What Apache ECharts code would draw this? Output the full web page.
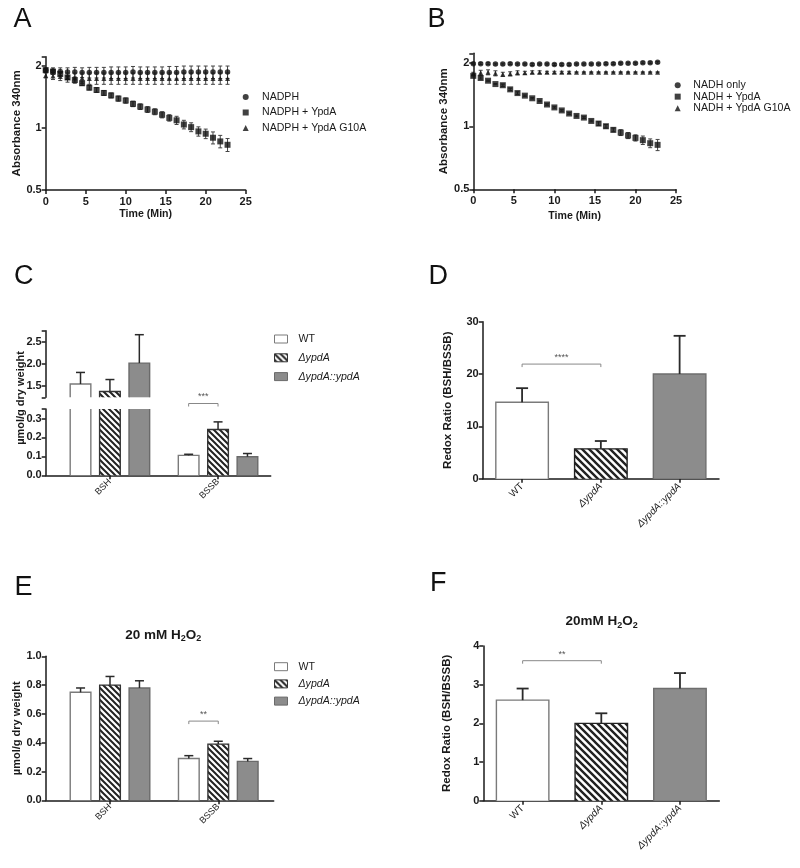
<!DOCTYPE html>
<html><head><meta charset="utf-8">
<script src="https://cdn.jsdelivr.net/npm/echarts@6/dist/echarts.min.js"></script>
<style>html,body{margin:0;padding:0;background:#fff}#c{width:800px;height:868px}</style>
</head><body><div id="c"></div>
<script>
// ---------------- DATA ----------------
const timeMin = [0,0.91,1.82,2.73,3.64,4.55,5.45,6.36,7.27,8.18,9.09,10.0,10.91,11.82,12.73,13.64,14.55,15.45,16.36,17.27,18.18,19.09,20.0,20.91,21.82,22.73];

// Panel A (NADPH)
const namesA = ['NADPH', 'NADPH + YpdA', 'NADPH + YpdA G10A'];
const nadph      = [1.91,1.89,1.88,1.87,1.87,1.86,1.86,1.86,1.86,1.86,1.86,1.86,1.87,1.86,1.86,1.86,1.86,1.86,1.86,1.87,1.87,1.87,1.87,1.87,1.87,1.87];
const nadphErr   = [0.05,0.07,0.08,0.09,0.10,0.10,0.11,0.11,0.11,0.12,0.12,0.12,0.12,0.12,0.12,0.12,0.12,0.13,0.13,0.13,0.13,0.13,0.13,0.13,0.13,0.13];
const nadphYpdA  = [1.91,1.88,1.83,1.76,1.71,1.65,1.57,1.53,1.48,1.44,1.39,1.36,1.31,1.27,1.23,1.20,1.16,1.12,1.09,1.04,1.01,0.963,0.938,0.897,0.861,0.829];
const nadphYpdAErr=[0.03,0.03,0.04,0.04,0.04,0.04,0.04,0.04,0.04,0.04,0.04,0.04,0.04,0.04,0.04,0.04,0.04,0.04,0.05,0.05,0.05,0.05,0.05,0.06,0.06,0.06];
const nadphG10A  = [1.80,1.79,1.78,1.76,1.75,1.75,1.74,1.74,1.74,1.74,1.74,1.74,1.74,1.74,1.74,1.74,1.74,1.74,1.74,1.74,1.74,1.74,1.74,1.74,1.74,1.74];
const nadphG10AErr=[0.05,0.07,0.08,0.09,0.10,0.10,0.11,0.11,0.11,0.11,0.11,0.11,0.11,0.11,0.11,0.11,0.11,0.11,0.11,0.11,0.11,0.11,0.11,0.11,0.11,0.11];

// Panel B (NADH)
const namesB = ['NADH only', 'NADH + YpdA', 'NADH + YpdA G10A'];
const nadh       = [1.99,1.99,1.99,1.98,1.98,1.99,1.98,1.98,1.97,1.98,1.98,1.97,1.97,1.97,1.98,1.98,1.98,1.98,1.99,1.99,2.00,2.00,2.00,2.01,2.01,2.02];
const nadhErr    = [0.02,0.02,0.02,0.02,0.02,0.02,0.02,0.02,0.02,0.02,0.02,0.02,0.02,0.02,0.02,0.02,0.02,0.02,0.02,0.02,0.02,0.02,0.02,0.02,0.02,0.02];
const nadhYpdA   = [1.74,1.70,1.65,1.59,1.57,1.50,1.44,1.40,1.36,1.32,1.27,1.23,1.19,1.15,1.12,1.10,1.06,1.03,1.00,0.961,0.933,0.903,0.880,0.858,0.830,0.815];
const nadhYpdAErr= [0.02,0.02,0.01,0.01,0.02,0.02,0.02,0.01,0.01,0.01,0.01,0.01,0.01,0.01,0.01,0.01,0.01,0.02,0.02,0.02,0.03,0.03,0.03,0.04,0.04,0.05];
const nadhG10A   = [1.78,1.80,1.81,1.79,1.77,1.78,1.80,1.80,1.81,1.81,1.81,1.81,1.81,1.81,1.81,1.81,1.81,1.81,1.81,1.81,1.81,1.81,1.81,1.81,1.81,1.81];
const nadhG10AErr= [0.03,0.05,0.05,0.05,0.04,0.04,0.04,0.03,0.03,0.03,0.02,0.02,0.02,0.02,0.01,0.01,0.01,0.01,0.01,0.01,0.01,0.01,0.01,0.01,0.01,0.01];

// Strains / groups
const strains = ['WT', 'ΔypdA', 'ΔypdA::ypdA'];
const groups = ['BSH', 'BSSB'];

// Panel C (per strain: [BSH, BSSB])
const cWT = [1.55, 0.105], cWTErr = [0.26, 0.006];
const cDel = [1.38, 0.242], cDelErr = [0.27, 0.04];
const cComp = [2.02, 0.098], cCompErr = [0.64, 0.017];
const cSig = {label: '***', level: 0.379};

// Panel D (redox ratio per strain)
const dRatio = [14.6, 5.7, 20.0], dRatioErr = [2.7, 1.5, 7.3];
const dSig = {label: '****', level: 21.9};

// Panel E (20 mM H2O2)
const eWT = [0.75, 0.29], eWTErr = [0.03, 0.02];
const eDel = [0.80, 0.39], eDelErr = [0.06, 0.02];
const eComp = [0.78, 0.27], eCompErr = [0.05, 0.02];
const eSig = {label: '**', level: 0.55};

// Panel F (redox ratio, 20mM H2O2)
const fRatio = [2.6, 2.0, 2.9], fRatioErr = [0.3, 0.26, 0.4];
const fSig = {label: '**', level: 3.62};

// ---------------- STYLE / BUILD ----------------
const FONT = '"Liberation Sans", Arial, Helvetica, sans-serif';
const INK = '#1a1a1a';

function hatch(p, lw, color) {
  const c = document.createElement('canvas');
  c.width = p; c.height = p;
  const ctx = c.getContext('2d');
  ctx.fillStyle = '#fff'; ctx.fillRect(0, 0, p, p);
  ctx.strokeStyle = color; ctx.lineWidth = lw;
  ctx.beginPath();
  for (let k = -1; k <= 1; k++) { ctx.moveTo(-2, -2 + k * p); ctx.lineTo(p + 2, p + 2 + k * p); }
  ctx.stroke();
  return {image: c, repeat: 'repeat'};
}
const patSmall = hatch(6, 2, '#222');
const patBig = hatch(7, 2.4, '#222');

const barStylesSmall = [
  {fill: '#ffffff', stroke: '#7a7a7a'},
  {fill: patSmall, stroke: '#333333'},
  {fill: '#8c8c8c', stroke: '#6a6a6a'}
];
const barStylesBig = [
  {fill: '#ffffff', stroke: '#7a7a7a'},
  {fill: patBig, stroke: '#222222'},
  {fill: '#8c8c8c', stroke: '#6e6e6e'}
];

function merge(a, b) {
  const o = Array.isArray(a) ? a.slice() : Object.assign({}, a);
  for (const k in b) {
    if (b[k] && typeof b[k] === 'object' && !Array.isArray(b[k]) && a[k] && typeof a[k] === 'object' && !b[k].image) o[k] = merge(a[k], b[k]);
    else o[k] = b[k];
  }
  return o;
}
const AX = {
  axisLine: {show: true, onZero: false, lineStyle: {color: INK, width: 1.5}},
  axisTick: {show: true, length: 4, inside: false, lineStyle: {color: INK, width: 1.5}},
  splitLine: {show: false},
  axisLabel: {color: INK, fontFamily: FONT, fontWeight: 'bold', fontSize: 11, margin: 4},
  nameTextStyle: {color: INK, fontFamily: FONT, fontWeight: 'bold', fontSize: 11.5}
};
const ax = o => merge(AX, o);

const logFmt = v => { const l = Math.log2(v); return Math.abs(l - Math.round(l)) < 1e-6 ? String(+v.toFixed(2)) : ''; };
const strainRich = {
  n: {fontFamily: FONT, fontSize: 10, color: INK},
  i: {fontFamily: FONT, fontSize: 10, color: INK, fontStyle: 'italic'}
};
const strainFmt = v => (v === 'WT' ? '{n|' + v + '}' : '{i|' + v + '}');

const zip = (xs, ys) => xs.map((x, i) => [x, ys[i]]);

// error bars for scatter series
function errSeries(xi, yi, vals, errs, capW) {
  return {
    type: 'custom', xAxisIndex: xi, yAxisIndex: yi, silent: true, z: 1,
    data: timeMin.map((t, i) => [t, vals[i], errs[i]]),
    encode: {x: 0, y: 1},
    renderItem: (params, api) => {
      const x = api.value(0), y = api.value(1), e = api.value(2);
      const t = api.coord([x, y + e]), b = api.coord([x, y - e]);
      const h = capW / 2, st = {stroke: '#444', lineWidth: 1};
      return {type: 'group', children: [
        {type: 'line', shape: {x1: t[0], y1: t[1], x2: b[0], y2: b[1]}, style: st},
        {type: 'line', shape: {x1: t[0] - h, y1: t[1], x2: t[0] + h, y2: t[1]}, style: st},
        {type: 'line', shape: {x1: b[0] - h, y1: b[1], x2: b[0] + h, y2: b[1]}, style: st}
      ]};
    }
  };
}
function pointSeries(name, xi, yi, vals, symbol, size) {
  return {type: 'scatter', name, xAxisIndex: xi, yAxisIndex: yi, symbol, symbolSize: size, z: 3,
    itemStyle: {color: '#111'}, data: zip(timeMin, vals)};
}

// bar drawing helper
function barShape(api, cs, xc, v, e, halfW, st, capW, lw) {
  const yTop = cs.y, yBot = cs.y + cs.height;
  const p = api.coord([xc, v]);
  if (p[1] > yBot + 0.5) return null;
  const clamped = p[1] < yTop;
  const ty = clamped ? yTop : p[1];
  const l = p[0] - halfW, r = p[0] + halfW;
  const border = {stroke: st.stroke, lineWidth: 1.4, fill: null};
  const ch = [{type: 'rect', shape: {x: l, y: ty, width: r - l, height: yBot - ty}, style: {fill: st.fill}}];
  if (clamped) {
    ch.push({type: 'line', shape: {x1: l, y1: yBot, x2: l, y2: ty}, style: border});
    ch.push({type: 'line', shape: {x1: r, y1: yBot, x2: r, y2: ty}, style: border});
  } else {
    ch.push({type: 'polyline', shape: {points: [[l, yBot], [l, ty], [r, ty], [r, yBot]]}, style: border});
    const pe = api.coord([xc, v + e]);
    const es = {stroke: '#2a2a2a', lineWidth: lw};
    ch.push({type: 'line', shape: {x1: p[0], y1: ty, x2: p[0], y2: pe[1]}, style: es});
    ch.push({type: 'line', shape: {x1: p[0] - capW / 2, y1: pe[1], x2: p[0] + capW / 2, y2: pe[1]}, style: es});
  }
  return {type: 'group', children: ch};
}

const OFFS = [-0.272, 0, 0.272], BAR_W = 0.191;
function groupedSeries(si, vals, errs, xi, yi) {
  const st = barStylesSmall[si];
  return {
    type: 'custom', name: strains[si], xAxisIndex: xi, yAxisIndex: yi,
    itemStyle: {color: st.fill, borderColor: st.stroke, borderWidth: 1},
    data: vals.map((v, g) => [g, v, errs[g]]), encode: {x: 0, y: 1},
    renderItem: (params, api) => {
      const xc = api.value(0) + OFFS[si];
      const halfW = api.size([BAR_W, 0])[0] / 2;
      return barShape(api, params.coordSys, xc, api.value(1), api.value(2), halfW, st, 9, 1.5);
    }
  };
}
function ratioSeries(vals, errs, xi, yi) {
  return {
    type: 'custom', name: 'ratio' + xi, xAxisIndex: xi, yAxisIndex: yi,
    data: vals.map((v, i) => [i, v, errs[i]]), encode: {x: 0, y: 1},
    renderItem: (params, api) => {
      const i = api.value(0);
      const halfW = api.size([1, 0])[0] * 0.667 / 2;
      return barShape(api, params.coordSys, i, api.value(1), api.value(2), halfW, barStylesBig[i], 12, 1.8);
    }
  };
}
function sigSeries(xi, yi, x0, x1, sig) {
  return {
    type: 'custom', xAxisIndex: xi, yAxisIndex: yi, silent: true, z: 5,
    data: [[x0, x1, sig.level]], encode: {x: 0, y: 2},
    renderItem: (params, api) => {
      const a = api.coord([api.value(0), api.value(2)]), b = api.coord([api.value(1), api.value(2)]);
      return {type: 'group', children: [
        {type: 'polyline', shape: {points: [[a[0], a[1] + 3], [a[0], a[1]], [b[0], b[1]], [b[0], b[1] + 3]]},
          style: {stroke: '#888', lineWidth: 1, fill: null}},
        {type: 'text', x: (a[0] + b[0]) / 2, y: a[1] - 2,
          style: {text: sig.label, fill: '#555', font: '9px ' + FONT, align: 'center', verticalAlign: 'bottom', textAlign: 'center', textVerticalAlign: 'bottom'}}
      ]};
    }
  };
}

// legends
function barLegend(top, gap) {
  return {
    left: 274, top, orient: 'vertical', padding: 0, itemWidth: 13, itemHeight: 8, itemGap: gap,
    selectedMode: false,
    data: strains.map((s, i) => ({name: s, icon: 'rect',
      itemStyle: {color: barStylesSmall[i].fill, borderColor: barStylesSmall[i].stroke, borderWidth: 1}})),
    formatter: n => (n === 'WT' ? '{n|' + n + '}' : '{i|' + n + '}'),
    textStyle: {fontFamily: FONT, fontSize: 10.6, color: INK, lineHeight: 12,
      rich: {n: {fontFamily: FONT, fontSize: 10.6, color: INK, padding: [0, 0, 0, 6]},
             i: {fontFamily: FONT, fontSize: 10.6, color: INK, fontStyle: 'italic', padding: [0, 0, 0, 6]}}}
  };
}
function ptLegend(left, top, names, gap, lh, pad) {
  return {left, top, orient: 'vertical', padding: 0, itemWidth: 6, itemHeight: 6, itemGap: gap,
    symbolKeepAspect: true, selectedMode: false, data: names,
    formatter: n => '{t|' + n + '}',
    textStyle: {fontFamily: FONT, fontSize: 10.6, color: INK, lineHeight: lh,
      rich: {t: {fontFamily: FONT, fontSize: 10.6, color: INK, lineHeight: lh, padding: [0, 0, 0, pad]}}}};
}

function letter(t, x, y) {
  return {type: 'text', x, y, style: {text: t, font: '27px ' + FONT, fill: '#111', textVerticalAlign: 'middle', verticalAlign: 'middle'}};
}
function h2o2Title(txt, x, y) {
  return {type: 'text', x, y, style: {
    text: '{b|' + txt + '}{s|2}{b|O}{s|2}', align: 'center', textAlign: 'center', verticalAlign: 'middle', textVerticalAlign: 'middle',
    rich: {b: {font: 'bold 13.5px ' + FONT, fill: INK, lineHeight: 16, verticalAlign: 'middle'},
           s: {font: 'bold 9px ' + FONT, fill: INK, verticalAlign: 'bottom'}}}};
}

const xGroupAxis = (grid, max) => ax({
  gridIndex: grid, type: 'value', min: -0.594, max,
  axisTick: {customValues: [0, 1]},
  axisLabel: {customValues: [0, 1], rotate: 45, fontWeight: 'normal', fontSize: 9, margin: 5,
    formatter: v => groups[Math.round(v)] || ''}
});

const option = {
  animation: false,
  backgroundColor: '#fff',
  textStyle: {fontFamily: FONT},
  grid: [
    {left: 45.7, top: 56.7, width: 200, height: 133.3},
    {left: 473.3, top: 53.3, width: 202.7, height: 136},
    {left: 45.7, top: 330.7, width: 225, height: 66.6},
    {left: 45.7, top: 409, width: 225, height: 66.3},
    {left: 482.7, top: 321.7, width: 236.3, height: 157},
    {left: 45.7, top: 656.3, width: 228, height: 144},
    {left: 483.3, top: 646, width: 236, height: 154.7}
  ],
  xAxis: [
    ax({gridIndex: 0, type: 'value', min: 0, max: 25, interval: 5, name: 'Time (Min)', nameLocation: 'middle', nameGap: 19,
        axisLabel: {margin: 6}, nameTextStyle: {fontSize: 10.6}}),
    ax({gridIndex: 1, type: 'value', min: 0, max: 25, interval: 5, name: 'Time (Min)', nameLocation: 'middle', nameGap: 21,
        axisLabel: {margin: 6}, nameTextStyle: {fontSize: 10.6}}),
    {gridIndex: 2, type: 'value', min: -0.594, max: 1.487, show: false},
    xGroupAxis(3, 1.487),
    ax({gridIndex: 4, type: 'category', data: strains, axisTick: {alignWithLabel: true},
        axisLabel: {rotate: 45, fontWeight: 'normal', margin: 6, formatter: strainFmt, rich: strainRich}}),
    xGroupAxis(5, 1.512),
    ax({gridIndex: 6, type: 'category', data: strains, axisTick: {alignWithLabel: true},
        axisLabel: {rotate: 45, fontWeight: 'normal', margin: 6, formatter: strainFmt, rich: strainRich}})
  ],
  yAxis: [
    ax({gridIndex: 0, type: 'log', logBase: 2, min: 0.5, max: 2.22, name: 'Absorbance 340nm', nameLocation: 'middle', nameGap: 17,
        axisLabel: {formatter: logFmt}}),
    ax({gridIndex: 1, type: 'log', logBase: 2, min: 0.5, max: 2.23, name: 'Absorbance 340nm', nameLocation: 'middle', nameGap: 20,
        axisLabel: {formatter: logFmt}}),
    ax({gridIndex: 2, type: 'value', min: 1.25, max: 2.75, splitNumber: 3,
        axisLabel: {formatter: v => (v < 1.3 || v > 2.7) ? '' : v.toFixed(1)}}),
    ax({gridIndex: 3, type: 'value', min: 0, max: 0.35, interval: 0.1,
        axisLabel: {formatter: v => (v > 0.32) ? '' : v.toFixed(1)}}),
    ax({gridIndex: 4, type: 'value', min: 0, max: 30, interval: 10, name: 'Redox Ratio (BSH/BSSB)', nameLocation: 'middle', nameGap: 29}),
    ax({gridIndex: 5, type: 'value', min: 0, max: 1, interval: 0.2, name: 'µmol/g dry weight', nameLocation: 'middle', nameGap: 13,
        axisLabel: {formatter: v => v.toFixed(1)}, nameTextStyle: {fontSize: 11}}),
    ax({gridIndex: 6, type: 'value', min: 0, max: 4, interval: 1, name: 'Redox Ratio (BSH/BSSB)', nameLocation: 'middle', nameGap: 30.5})
  ],
  legend: [
    ptLegend(242.7, 91, namesA, 3.5, 12, 8.3),
    ptLegend(674.7, 79.4, namesB, 0, 11.5, 7.6),
    barLegend(333, 6.8),
    barLegend(660.7, 5.2)
  ],
  graphic: {elements: [
    letter('A', 13.5, 20), letter('B', 427.5, 20), letter('C', 14, 277), letter('D', 428.5, 277),
    letter('E', 14.5, 588), letter('F', 430, 583.5),
    {type: 'text', x: 21, y: 398, rotation: Math.PI / 2,
      style: {text: 'µmol/g dry weight', font: 'bold 11px ' + FONT, fill: INK, align: 'center', verticalAlign: 'middle', textAlign: 'center', textVerticalAlign: 'middle'}},
    h2o2Title('20 mM H', 163.3, 635),
    h2o2Title('20mM H', 601.7, 621.7)
  ]},
  series: [
    // A
    errSeries(0, 0, nadph, nadphErr, 4), errSeries(0, 0, nadphG10A, nadphG10AErr, 4), errSeries(0, 0, nadphYpdA, nadphYpdAErr, 4),
    pointSeries(namesA[0], 0, 0, nadph, 'circle', 5.5),
    pointSeries(namesA[1], 0, 0, nadphYpdA, 'rect', 6),
    pointSeries(namesA[2], 0, 0, nadphG10A, 'triangle', 5),
    // B
    errSeries(1, 1, nadh, nadhErr, 4), errSeries(1, 1, nadhG10A, nadhG10AErr, 4), errSeries(1, 1, nadhYpdA, nadhYpdAErr, 4),
    pointSeries(namesB[0], 1, 1, nadh, 'circle', 5.5),
    pointSeries(namesB[1], 1, 1, nadhYpdA, 'rect', 6),
    pointSeries(namesB[2], 1, 1, nadhG10A, 'triangle', 5),
    // C upper + lower
    groupedSeries(0, cWT, cWTErr, 2, 2), groupedSeries(1, cDel, cDelErr, 2, 2), groupedSeries(2, cComp, cCompErr, 2, 2),
    groupedSeries(0, cWT, cWTErr, 3, 3), groupedSeries(1, cDel, cDelErr, 3, 3), groupedSeries(2, cComp, cCompErr, 3, 3),
    sigSeries(3, 3, 1 + OFFS[0], 1 + OFFS[1], cSig),
    // D
    ratioSeries(dRatio, dRatioErr, 4, 4),
    sigSeries(4, 4, 0, 1, dSig),
    // E
    groupedSeries(0, eWT, eWTErr, 5, 5), groupedSeries(1, eDel, eDelErr, 5, 5), groupedSeries(2, eComp, eCompErr, 5, 5),
    sigSeries(5, 5, 1 + OFFS[0], 1 + OFFS[1], eSig),
    // F
    ratioSeries(fRatio, fRatioErr, 6, 6),
    sigSeries(6, 6, 0, 1, fSig)
  ]
};

const chart = echarts.init(document.getElementById('c'), null, {renderer: 'canvas'});
chart.setOption(option);
</script>
</body></html>
